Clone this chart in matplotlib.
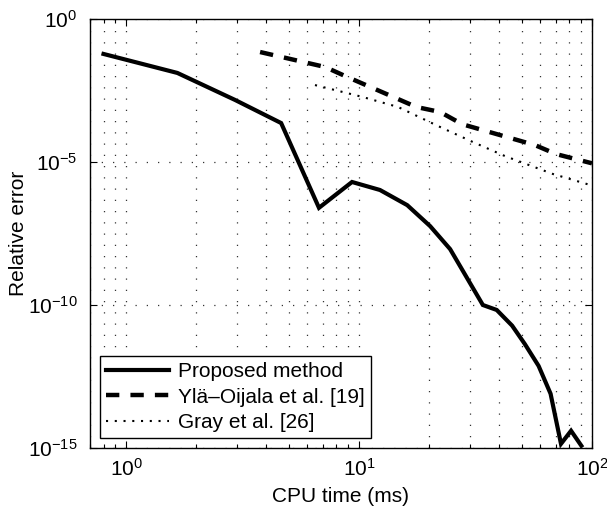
import matplotlib
matplotlib.use("Agg")
import matplotlib.pyplot as plt
from matplotlib.ticker import LogLocator, FixedLocator, NullFormatter, FixedFormatter

plt.rcParams['font.family'] = ['Liberation Sans', 'DejaVu Sans']
plt.rcParams['mathtext.fontset'] = 'custom'
plt.rcParams['mathtext.rm'] = 'Liberation Sans'
plt.rcParams['mathtext.it'] = 'Liberation Sans'
plt.rcParams['mathtext.default'] = 'regular'

# Proposed method
prop_x = [0.80, 1.66, 2.94, 4.63, 6.73, 9.33, 12.3, 16.1, 20.2, 24.6, 34.0, 39.0, 45.4, 51.5, 59.0, 66.4, 73.6, 81.3, 90.0]
prop_y = [6.0e-2, 1.3e-2, 1.47e-3, 2.3e-4, 2.5e-7, 2.0e-6, 1.05e-6, 3.1e-7, 5.7e-8, 9e-9,
          1.0e-10, 6.7e-11, 1.9e-11, 4.3e-12, 7.4e-13, 7.9e-14, 1.4e-15, 4.0e-15, 1.2e-15]

# Ylä-Oijala et al. [19]
ylo_x = [3.76, 7.15, 8.7, 17.6, 22.3, 27.7, 56.9, 70.0, 100.0]
ylo_y = [7.0e-2, 2.1e-2, 1.02e-2, 8.4e-4, 5.6e-4, 2.1e-4, 3.9e-5, 1.9e-5, 9.0e-6]

# Gray et al. [26]
gray_x = [6.47, 10.3, 14.7, 22.3, 30.8, 42.4, 68.0, 98.0]
gray_y = [4.9e-3, 1.9e-3, 8.4e-4, 1.67e-4, 5.0e-5, 1.6e-5, 3.8e-6, 1.58e-6]

labels = ['Proposed method', 'Ylä–Oijala et al. [19]', 'Gray et al. [26]']
x_ticks = [1, 10, 100]
x_ticklabels = [r'$10^{0}$', r'$10^{1}$', r'$10^{2}$']
y_ticks = [1e-15, 1e-10, 1e-5, 1]
y_ticklabels = [r'$10^{-15}$', r'$10^{-10}$', r'$10^{-5}$', r'$10^{0}$']

fig = plt.figure(figsize=(6.07, 5.16), dpi=100)
ax = fig.add_axes([90/607, 1-448/516, 502/607, 429/516])

ax.set_xscale('log')
ax.set_yscale('log')

l1, = ax.plot(prop_x, prop_y, color='black', lw=3.0, solid_joinstyle='miter', label=labels[0])
l2, = ax.plot(ylo_x, ylo_y, color='black', lw=3.2, dashes=(3.0, 2.5), dash_capstyle='butt', label=labels[1])
l3, = ax.plot(gray_x, gray_y, color='black', lw=1.5, dashes=(1.0, 3.2), label=labels[2])
for l in (l1, l2, l3):
    l.set_clip_on(False)

ax.set_xlim(0.7, 100)
ax.set_ylim(1e-15, 1)

ax.xaxis.set_major_locator(FixedLocator(x_ticks))
ax.xaxis.set_major_formatter(FixedFormatter(x_ticklabels))
ax.xaxis.set_minor_locator(LogLocator(base=10, subs=[2, 3, 4, 5, 6, 7, 8, 9], numticks=20))
ax.xaxis.set_minor_formatter(NullFormatter())
ax.yaxis.set_major_locator(FixedLocator(y_ticks))
ax.yaxis.set_major_formatter(FixedFormatter(y_ticklabels))
ax.yaxis.set_minor_locator(FixedLocator([]))

ax.tick_params(which='both', direction='in', top=True, right=True, labelsize=15, width=0.8, color='black')
ax.tick_params(which='major', length=5)
ax.tick_params(axis='y', which='major', pad=9)
ax.tick_params(axis='x', which='major', pad=7)
ax.tick_params(which='minor', length=3)

ax.grid(True, which='major', axis='both', color='0.2', lw=0.9, linestyle=(0, (1, 8)))
ax.grid(True, which='minor', axis='x', color='0.2', lw=0.9, linestyle=(0, (1, 8)))
ax.set_axisbelow(True)
for s in ax.spines.values():
    s.set_linewidth(1.0)

ax.set_xlabel('CPU time (ms)', fontsize=15)
ax.set_ylabel('Relative error', fontsize=15)
ax.xaxis.set_label_coords(0.5, -(487 - 448) / 429)
ax.yaxis.set_label_coords(-(90 - 28) / 502, 0.5)

leg = ax.legend(loc='lower left', bbox_to_anchor=(0.02, 0.023), borderaxespad=0,
                fontsize=15, handlelength=3.0, handletextpad=0.45, labelspacing=0.3,
                fancybox=False, framealpha=1, edgecolor='black', borderpad=0.3)
leg.get_frame().set_linewidth(1.0)

fig.savefig('out.png', dpi=100)
